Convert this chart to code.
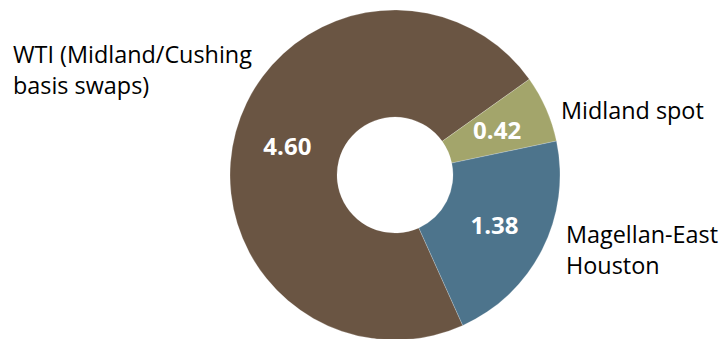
<!DOCTYPE html>
<html>
<head>
<meta charset="utf-8">
<script src="https://cdn.jsdelivr.net/npm/d3@7"></script>
<style>
	body { margin: 0; background: #fff; }
	svg { display: block; }
	.catLabel { font-family: "Open Sans", sans-serif; font-size: 23.4px; fill: #000; }
	.valLabel { font-family: "Open Sans", sans-serif; font-size: 24px; font-weight: bold; fill: #fff; }
</style>
</head>
<body>
<svg id="chart"></svg>
<script>
// data
var categories = ["WTI (Midland/Cushing basis swaps)", "Midland spot", "Magellan-East Houston"];
var values = [4.60, 0.42, 1.38];
var colours = ["#6a5543", "#a3a56b", "#4d748c"];

var width = 722,
	height = 339;

var svg = d3
	.select("#chart")
	.attr("width", width)
	.attr("height", height);

var cx = 395,
	cy = 175,
	rOuter = 165,
	rInner = 58;

// first slice starts lower right
var startAngle = (155.75 * Math.PI) / 180;

var pie = d3
	.pie()
	.sort(null)
	.startAngle(startAngle)
	.endAngle(startAngle + 2 * Math.PI);

var arc = d3
	.arc()
	.innerRadius(rInner)
	.outerRadius(rOuter);

var arcs = pie(values);

var g = svg.append("g").attr("transform", "translate(" + cx + "," + cy + ")");

g.selectAll("path")
	.data(arcs)
	.enter()
	.append("path")
	.attr("d", arc)
	.style("fill", (d, i) => colours[i])
	.style("stroke", "#fff")
	.style("stroke-opacity", 0.35)
	.style("stroke-width", 0.6);

// value labels in the middle of the ring
g.selectAll(".valLabel")
	.data(arcs)
	.enter()
	.append("text")
	.classed("valLabel", true)
	.attr("transform", d => "translate(" + arc.centroid(d) + ")")
	.attr("text-anchor", "middle")
	.attr("dy", "0.36em")
	.text(d => d3.format(".2f")(d.value));

// category labels, placed like the original
var labelLayout = [
	{ x: 13, y: 63, lines: ["WTI (Midland/Cushing", "basis swaps)"] },
	{ x: 561, y: 119, lines: ["Midland spot"] },
	{ x: 566, y: 243, lines: ["Magellan-East", "Houston"] }
];

var lbl = svg
	.selectAll(".catLabel")
	.data(labelLayout)
	.enter()
	.append("text")
	.classed("catLabel", true)
	.attr("x", d => d.x)
	.attr("y", d => d.y);

lbl.selectAll("tspan")
	.data(d => d.lines.map(l => ({ t: l, x: d.x })))
	.enter()
	.append("tspan")
	.attr("x", d => d.x)
	.attr("dy", (d, i) => (i ? 31 : 0))
	.text(d => d.t);
</script>
</body>
</html>
